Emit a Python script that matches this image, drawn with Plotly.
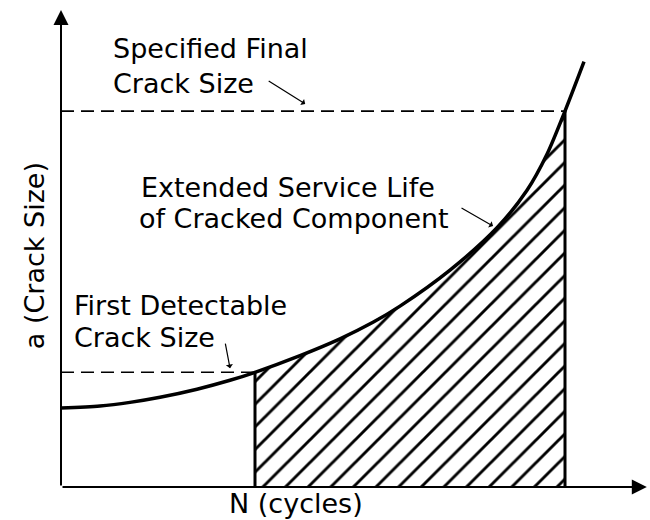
import plotly.graph_objects as go

# crack growth curve (arbitrary units, 0-100 on both axes)
cycles = [0.0, 6.64, 11.75, 16.87, 23.17, 28.79, 33.05, 40.72, 47.53, 53.15, 57.75, 66.27, 74.28, 79.39, 82.79, 85.86, 89.10]
crack_size = [16.56, 16.98, 17.74, 18.81, 20.50, 22.37, 24.05, 27.55, 31.07, 34.53, 37.92, 45.47, 54.34, 62.20, 69.75, 78.81, 89.16]

DETECT_IDX = 6    # first detectable crack size
FINAL_IDX = 15    # specified final crack size

x_label = "N (cycles)"
y_label = "a (Crack Size)"
final_label = ["Specified Final", "Crack Size"]
service_label = ["Extended Service Life", "of Cracked Component"]
detect_label = ["First Detectable", "Crack Size"]

FONT = dict(family="DejaVu Sans", size=27, color="black")

n_det, a_det = cycles[DETECT_IDX], crack_size[DETECT_IDX]
n_fin, a_fin = cycles[FINAL_IDX], crack_size[FINAL_IDX]

fig = go.Figure()

# hatched extended service life region
fig.add_trace(go.Scatter(
    x=cycles[DETECT_IDX:FINAL_IDX + 1],
    y=crack_size[DETECT_IDX:FINAL_IDX + 1],
    mode="lines",
    line=dict(width=0, shape="spline", smoothing=0.8),
    fill="tozeroy",
    fillcolor="rgba(0,0,0,0)",
    fillpattern=dict(shape="/", size=16, solidity=0.18,
                     fgcolor="black", fgopacity=1, bgcolor="white",
                     fillmode="overlay"),
    hoverinfo="skip",
))

# dashed reference levels
for n_end, a_lvl in [(n_fin, a_fin), (n_det, a_det)]:
    fig.add_trace(go.Scatter(
        x=[0, n_end], y=[a_lvl, a_lvl], mode="lines",
        line=dict(color="black", width=1.6, dash="13px,7px"),
        hoverinfo="skip",
    ))

# vertical bounds of the hatched area
for n_v, a_v in [(n_det, a_det), (n_fin, a_fin)]:
    fig.add_trace(go.Scatter(
        x=[n_v, n_v], y=[0, a_v], mode="lines",
        line=dict(color="black", width=3),
        hoverinfo="skip",
    ))

# crack growth curve
fig.add_trace(go.Scatter(
    x=cycles, y=crack_size, mode="lines",
    line=dict(color="black", width=3.5, shape="spline", smoothing=0.8),
    hoverinfo="skip",
))

annotations = []

# axes with arrowheads
for hx, hy in [(0, 100), (99.8, 0)]:
    annotations.append(dict(
        x=hx, y=hy, ax=0, ay=0, xref="x", yref="y", axref="x", ayref="y",
        text="", showarrow=True, arrowhead=2, arrowsize=1.5, arrowwidth=2,
        arrowcolor="black",
    ))

# text lines (left anchored)
text_lines = [
    (final_label[0], 8.5, 91.9),
    (final_label[1], 8.5, 84.6),
    (service_label[0], 13.3, 62.8),
    (service_label[1], 12.95, 56.3),
    (detect_label[0], 1.9, 38.0),
    (detect_label[1], 1.9, 31.3),
]
for txt, tx, ty in text_lines:
    annotations.append(dict(
        x=tx, y=ty, xref="x", yref="y", text=txt, showarrow=False,
        xanchor="left", yanchor="middle", font=FONT,
    ))

# axis titles sit outside the plotting range, so use paper coords
annotations.append(dict(
    x=0.283, y=-0.035, xref="paper", yref="paper", text=x_label,
    showarrow=False, xanchor="left", yanchor="middle", font=FONT,
))
annotations.append(dict(
    x=-0.046, y=0.486, xref="paper", yref="paper", text=y_label,
    showarrow=False, textangle=-90, xanchor="center", yanchor="middle",
    font=FONT,
))

# small leader arrows from labels
for hx, hy, tx, ty in [(41.6, 80.3, -38, -24), (73.6, 54.7, -33, -19), (28.8, 24.9, -5, -26)]:
    annotations.append(dict(
        x=hx, y=hy, xref="x", yref="y", ax=tx, ay=ty, text="",
        showarrow=True, arrowhead=1, arrowsize=1, arrowwidth=1.2,
        arrowcolor="black",
    ))

fig.update_layout(
    width=650, height=520, autosize=False,
    margin=dict(l=61, r=2, t=10, b=33),
    showlegend=False,
    plot_bgcolor="white",
    paper_bgcolor="white",
    xaxis=dict(visible=False, range=[0, 100], fixedrange=True),
    yaxis=dict(visible=False, range=[0, 100], fixedrange=True),
    annotations=annotations,
)

# drop the default page margin so the figure sits at the window origin
fig.write_html("out.html", config={"displayModeBar": False},
               post_script="document.body.style.margin='0px';")
